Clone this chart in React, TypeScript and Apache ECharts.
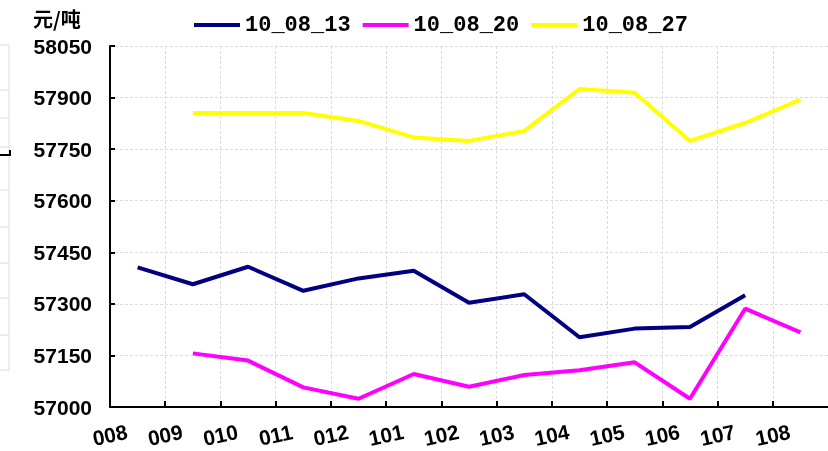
import React, { useEffect, useRef } from "react";
import * as echarts from "echarts";

const categories = ["008", "009", "010", "011", "012", "101", "102", "103", "104", "105", "106", "107", "108"];
const seriesNames = ["10_08_13", "10_08_20", "10_08_27"];
const s1: (number | null)[] = [57406, 57357, 57408, 57338, 57374, 57396, 57303, 57328, 57203, 57228, 57233, 57325, null];
const s2: (number | null)[] = [null, 57156, 57135, 57057, 57024, 57096, 57059, 57093, 57107, 57130, 57024, 57286, 57217];
const s3: (number | null)[] = [null, 57855, 57855, 57855, 57832, 57784, 57774, 57803, 57925, 57914, 57774, 57826, 57894];
const yMin = 57000;
const yMax = 58050;
const yStep = 150;
const unitLabel = "元/吨";
const colors = ["#000080", "#FF00FF", "#FFFF00"];

function toPoints(vals: (number | null)[]) {
  return vals.map((v, i) => [i + 0.5, v === null ? "-" : v]);
}

export default function App() {
  const ref = useRef<HTMLDivElement>(null);
  useEffect(() => {
    if (!ref.current) return;
    const chart = echarts.init(ref.current, undefined, { renderer: "svg" });
    const gray = "#dcdcdc";
    const leftLinesY = [45, 90, 118, 147, 190, 227, 263, 298, 335, 370];
    const graphics: any[] = [
      {
        type: "text",
        left: 33,
        top: 8,
        style: { text: unitLabel, font: "bold 20px 'Noto Sans CJK SC'", fill: "#000" },
      },
      { type: "line", shape: { x1: 9, y1: 45, x2: 9, y2: 371 }, style: { stroke: gray, lineWidth: 1 } },
      ...leftLinesY.map((y) => ({
        type: "line",
        shape: { x1: 0, y1: y, x2: 9, y2: y },
        style: { stroke: gray, lineWidth: 1 },
      })),
      { type: "polyline", shape: { points: [[0, 155], [10, 155], [10, 150]] }, style: { stroke: "#000", lineWidth: 2, fill: null } },
    ];
    chart.setOption({
      animation: false,
      color: colors,
      legend: {
        left: 189,
        top: 9,
        icon: "rect",
        itemWidth: 46,
        itemHeight: 4,
        itemGap: 12,
        textStyle: { fontFamily: "'Liberation Mono'", fontWeight: "bold", fontSize: 22, color: "#000" },
        data: seriesNames,
      },
      graphic: graphics,
      grid: { left: 110, top: 46, width: 728, bottom: 44, containLabel: false },
      xAxis: {
        type: "value",
        min: 0,
        max: categories.length,
        interval: 1,
        axisLine: { show: true, lineStyle: { color: "#000", width: 2 } },
        axisTick: { show: true, inside: true, length: 6, lineStyle: { color: "#000", width: 2 } },
        splitLine: { show: true, lineStyle: { color: gray, type: [3, 2], width: 1 } },
        axisLabel: {
          formatter: (v: number) => (Number.isInteger(v) && v < categories.length ? categories[v] : ""),
          rotate: 12,
          align: "center",
          verticalAlign: "middle",
          margin: 28,
          fontFamily: "'Liberation Sans'",
          fontWeight: "bold",
          fontSize: 21,
          color: "#000",
          showMaxLabel: false,
        },
      },
      yAxis: {
        type: "value",
        min: yMin,
        max: yMax,
        interval: yStep,
        axisLine: { show: true, lineStyle: { color: "#000", width: 2 } },
        axisTick: { show: true, inside: true, length: 5, lineStyle: { color: "#000", width: 2 } },
        splitLine: { show: true, lineStyle: { color: gray, type: [3, 2], width: 1 } },
        axisLabel: {
          margin: 18,
          formatter: (v: number) => String(v),
          fontFamily: "'Liberation Sans'",
          fontWeight: "bold",
          fontSize: 21,
          color: "#000",
        },
      },
      series: [s1, s2, s3].map((d, i) => ({
        name: seriesNames[i],
        type: "line",
        data: toPoints(d),
        symbol: "none",
        connectNulls: false,
        lineStyle: { width: 4, color: colors[i] },
        itemStyle: { color: colors[i] },
      })),
    });
    return () => chart.dispose();
  }, []);
  return <div ref={ref} style={{ position: "fixed", left: 0, top: 0, width: 828, height: 451 }} />;
}
